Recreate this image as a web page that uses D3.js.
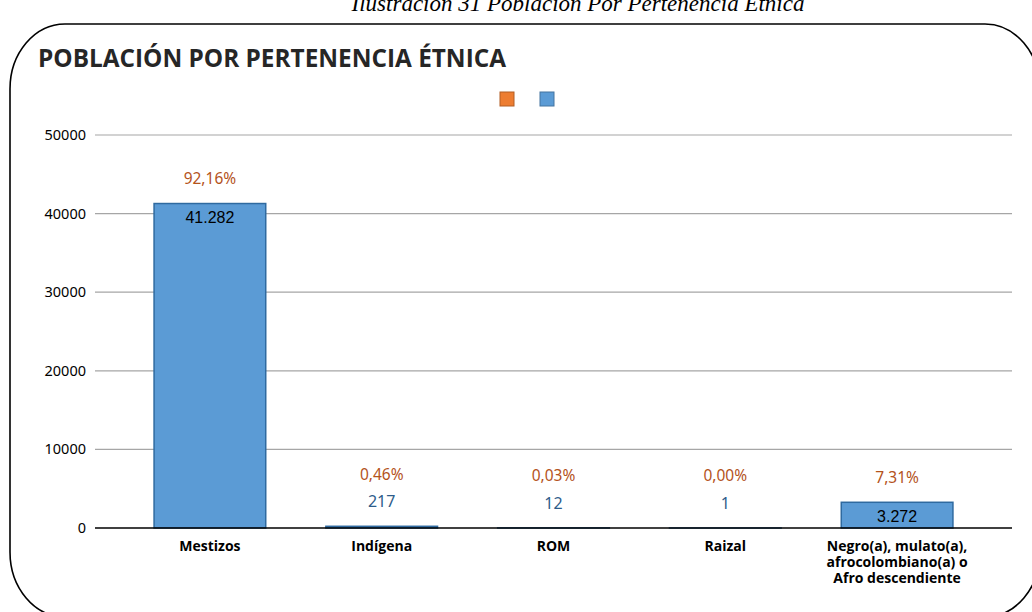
<!DOCTYPE html>
<html>
<head>
<meta charset="utf-8">
<script src="https://cdn.jsdelivr.net/npm/d3@7"></script>
<style>
  body { margin: 0; background: #fff; }
  svg { display: block; }
</style>
</head>
<body>
<div id="container"></div>
<script>
const categories = ['Mestizos', 'Indígena', 'ROM', 'Raizal', 'Negro(a), mulato(a),|afrocolombiano(a) o|Afro descendiente'];
const population = [41282, 217, 12, 1, 3272];
const percentages = ['92,16%', '0,46%', '0,03%', '0,00%', '7,31%'];
const popLabels = ['41.282', '217', '12', '1', '3.272'];
const yTicks = [0, 10000, 20000, 30000, 40000, 50000];

const W = 1032, H = 612;
const BLUE = '#5b9bd5';
const ORANGE = '#ed7d31';

const svg = d3.select('#container')
  .append('svg')
  .attr('width', W)
  .attr('height', H);

// caption, cut off by the top edge like in the source document
svg.append('text')
  .attr('x', 578)
  .attr('y', 11)
  .attr('text-anchor', 'middle')
  .style('font-family', 'Liberation Serif')
  .style('font-style', 'italic')
  .style('font-size', '23px')
  .text('Ilustración 31 Población Por Pertenencia Étnica');

// rounded frame
svg.append('rect')
  .attr('x', 10)
  .attr('y', 24)
  .attr('width', 1030)
  .attr('height', 593)
  .attr('rx', 55)
  .attr('ry', 65)
  .style('fill', 'none')
  .style('stroke', '#000')
  .style('stroke-width', 1.6);

svg.append('text')
  .attr('x', 38)
  .attr('y', 67)
  .attr('textLength', 468)
  .attr('lengthAdjust', 'spacingAndGlyphs')
  .style('font-family', 'Open Sans')
  .style('font-weight', 'bold')
  .style('font-size', '25px')
  .style('fill', '#262626')
  .text('POBLACIÓN POR PERTENENCIA ÉTNICA');

// legend: two series, no names
const legend = svg.append('g');
[ORANGE, BLUE].forEach((c, i) => {
  legend.append('rect')
    .attr('x', 500 + i * 40)
    .attr('y', 92)
    .attr('width', 14)
    .attr('height', 14)
    .style('fill', c)
    .style('stroke', d3.color(c).darker(0.8))
    .style('stroke-width', 1);
});

const y = d3.scaleLinear().domain([0, 50000]).range([528, 135]);
const x = d3.scaleBand().domain(categories).range([124, 983]).paddingInner(0.35).paddingOuter(0.175);

// grid
svg.append('g')
  .selectAll('line')
  .data(yTicks.filter(d => d > 0))
  .join('line')
  .attr('x1', 95)
  .attr('x2', 1012)
  .attr('y1', d => y(d))
  .attr('y2', d => y(d))
  .style('stroke', '#a6a6a6')
  .style('stroke-width', 1.2);

// y axis labels
svg.append('g')
  .selectAll('text')
  .data(yTicks)
  .join('text')
  .attr('x', 86)
  .attr('y', d => y(d))
  .attr('dy', '0.35em')
  .attr('text-anchor', 'end')
  .style('font-family', 'Noto Sans')
  .style('font-size', '14.5px')
  .style('fill', '#000')
  .text(d => d);

// bars
svg.append('g')
  .selectAll('rect')
  .data(population)
  .join('rect')
  .attr('x', (d, i) => x(categories[i]))
  .attr('y', d => y(d))
  .attr('width', x.bandwidth())
  .attr('height', d => y(0) - y(d))
  .style('fill', BLUE)
  .style('stroke', '#2f6aa0')
  .style('stroke-width', 1.5);

// baseline
svg.append('line')
  .attr('x1', 95)
  .attr('x2', 1012)
  .attr('y1', y(0))
  .attr('y2', y(0))
  .style('stroke', '#000')
  .style('stroke-width', 1.5);

// value labels: inside the bar when tall enough, above otherwise
const labelInfo = population.map((d, i) => {
  const cx = x(categories[i]) + x.bandwidth() / 2;
  const inside = y(0) - y(d) > 20;
  const valY = inside ? y(d) + 14 : y(d) - 25;
  const top = inside ? y(d) : valY - 2;
  return { cx, inside, valY, pctY: top - 25 };
});

svg.append('g')
  .selectAll('text')
  .data(popLabels)
  .join('text')
  .attr('x', (d, i) => labelInfo[i].cx)
  .attr('y', (d, i) => labelInfo[i].valY)
  .attr('dy', '0.35em')
  .attr('text-anchor', 'middle')
  .style('font-family', (d, i) => labelInfo[i].inside ? 'Liberation Sans' : 'Noto Sans')
  .style('font-size', '16px')
  .style('fill', (d, i) => labelInfo[i].inside ? '#000' : '#2e5c8a')
  .text(d => d);

svg.append('g')
  .selectAll('text')
  .data(percentages)
  .join('text')
  .attr('x', (d, i) => labelInfo[i].cx)
  .attr('y', (d, i) => labelInfo[i].pctY)
  .attr('dy', '0.35em')
  .attr('text-anchor', 'middle')
  .style('font-family', 'Noto Sans')
  .style('font-size', '15.5px')
  .style('fill', '#b4531c')
  .text(d => d);

// category labels
const cat = svg.append('g')
  .selectAll('text')
  .data(categories)
  .join('text')
  .attr('text-anchor', 'middle')
  .style('font-family', 'Open Sans')
  .style('font-weight', 'bold')
  .style('font-size', '14px')
  .style('fill', '#000');

cat.each(function(d) {
  const cx = x(d) + x.bandwidth() / 2;
  d3.select(this).selectAll('tspan')
    .data(d.split('|'))
    .join('tspan')
    .attr('x', cx)
    .attr('y', (t, j) => 551 + j * 16)
    .text(t => t);
});
</script>
</body>
</html>
